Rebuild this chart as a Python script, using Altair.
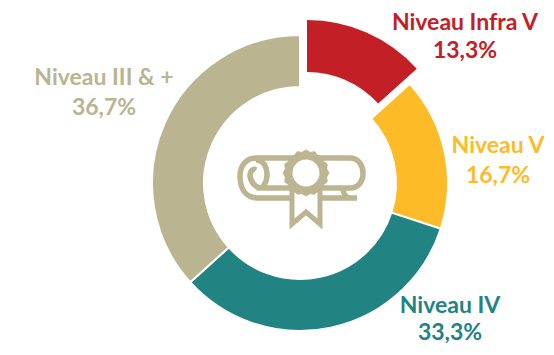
import altair as alt
import pandas as pd
import math

categories = ["Niveau Infra V", "Niveau V", "Niveau IV", "Niveau III & +"]
shares = [13.3, 16.7, 33.3, 36.7]
share_labels = ["13,3%", "16,7%", "33,3%", "36,7%"]
colours = ["#C22026", "#FDBB27", "#228383", "#BAB491"]
order = [0, 1, 2, 3]

W, H = 538, 339
CX, CY = 292, 175
TAN = "#BDB591"

df = pd.DataFrame({"cat": categories, "share": shares, "ord": order})

base = alt.Chart(df).encode(
    theta=alt.Theta("share:Q", stack=True, scale=alt.Scale(domain=[0, 100])),
    order=alt.Order("ord:Q"),
    color=alt.Color("cat:N", scale=alt.Scale(domain=categories, range=colours), legend=None),
    x=alt.value(CX),
    y=alt.value(CY),
)
is_red = "datum.cat === 'Niveau Infra V'"
ring = base.mark_arc(radius=148, radius2=96, stroke="white", strokeWidth=2).encode(
    opacity=alt.condition(is_red, alt.value(0), alt.value(1))
)
exploded = base.mark_arc(radius=148, radius2=96, xOffset=7, yOffset=-15).encode(
    opacity=alt.condition(is_red, alt.value(1), alt.value(0))
)

# page-pixel centre x, first line y, second line y
label_xy = {
    "Niveau Infra V": (465, 23, 51),
    "Niveau V": (498, 146, 176),
    "Niveau IV": (450, 306, 333),
    "Niveau III & +": (104, 78, 108),
}
texts = []
for cat, val, col in zip(categories, share_labels, colours):
    px, y1, y2 = label_xy[cat]
    for t, yy in ((cat, y1), (val, y2)):
        texts.append(
            alt.Chart(pd.DataFrame({"t": [t]}))
            .mark_text(font="Lato", fontWeight="bold", fontSize=23, color=col, align="center", baseline="middle")
            .encode(text="t:N", x=alt.value(px - 8), y=alt.value(yy - 8))
        )


def norm(segments):
    # icon drawn in page pixels around its centre, half-width 65
    out = []
    for s in segments:
        if isinstance(s, str):
            out.append(s)
        else:
            out.append(f"{(s[0] - 300) / 65:.4f} {(s[1] - 188) / 65:.4f}")
    return " ".join(out)


scroll = norm([
    "M", (350, 158), "L", (256, 158),
    "C", (246, 158), (240, 166), (240, 176),
    "C", (240, 189), (246, 198), (258, 198),
    "L", (357, 198), "L", (350, 198),
    "C", (345, 198), (343, 192), (343, 188),
    "M", (350, 158),
    "C", (358, 158), (363, 165), (363, 173),
    "C", (363, 182), (358, 188), (350, 188),
    "L", (262, 188),
    "C", (267, 182), (268, 175), (266, 168),
    "C", (264, 162), (260, 160), (256, 160),
    "M", (262, 188),
    "C", (256, 188), (251, 183), (250, 176),
    "C", (250, 171), (253, 168), (256, 170),
])
ribbon = norm(["M", (292, 190), "L", (292, 224), "L", (306, 212), "L", (320, 224), "L", (320, 190), "Z"])
pts = []
for i in range(32):
    r = 23 if i % 2 == 0 else 21
    a = 2 * math.pi * i / 32
    pts.append((306 + r * math.cos(a), 173 + r * math.sin(a)))
rosette = norm(["M", pts[0]] + [x for p in pts[1:] for x in ("L", p)] + ["Z"])

icon_df = pd.DataFrame({"i": [0]})
icon = []
for shape, fill, sw in ((scroll, None, 5.5), (ribbon, "white", 5), (rosette, TAN, 1)):
    kw = {"fill": fill, "filled": True} if fill else {"filled": False}
    icon.append(
        alt.Chart(icon_df)
        .mark_point(shape=shape, size=130 ** 2, stroke=TAN, strokeWidth=sw, opacity=1, **kw)
        .encode(x=alt.value(300 - 8), y=alt.value(188 - 8))
    )
icon.append(
    alt.Chart(icon_df)
    .mark_point(shape="circle", size=27 ** 2, filled=True, fill="white", opacity=1)
    .encode(x=alt.value(306 - 8), y=alt.value(173 - 8))
)

chart = (
    alt.layer(ring, exploded, *icon, *texts)
    .properties(width=W, height=H, padding=0, autosize=alt.AutoSizeParams(type="none"))
    .configure_view(stroke=None)
    .resolve_scale(theta="shared", color="shared")
)
chart.save("out.html", embed_options={"renderer": "svg", "actions": False})
